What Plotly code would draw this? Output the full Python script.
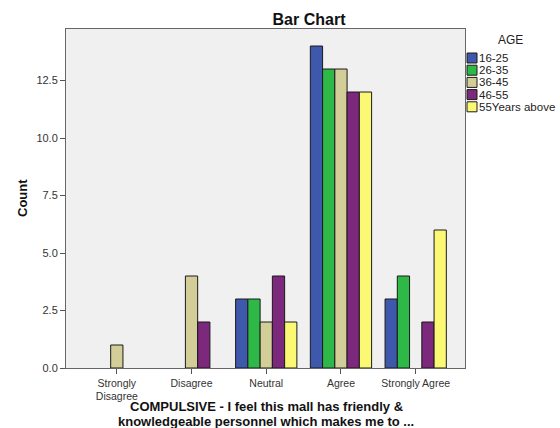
import plotly.graph_objects as go

categories = ["Strongly<br>Disagree", "Disagree", "Neutral", "Agree", "Strongly Agree"]
series_names = ["16-25", "26-35", "36-45", "46-55", "55Years above"]
values_16_25 = [0, 0, 3, 14, 3]
values_26_35 = [0, 0, 3, 13, 4]
values_36_45 = [1, 4, 2, 13, 0]
values_46_55 = [0, 2, 4, 12, 2]
values_55_up = [0, 0, 2, 12, 6]
series_values = [values_16_25, values_26_35, values_36_45, values_46_55, values_55_up]
colors = ["#3E58AC", "#2EB848", "#D3CE97", "#7C287D", "#FBF873"]
y_ticks = [0, 2.5, 5, 7.5, 10, 12.5]
y_tick_labels = ["0.0", "2.5", "5.0", "7.5", "10.0", "12.5"]
x_title_lines = ["COMPULSIVE - I feel this mall has friendly &amp;",
                 "knowledgeable personnel which makes me to ..."]

W, H = 560, 428
L, R, T, B = 66, 95, 29, 60
PW, PH = W - L - R, H - T - B

def px_to_paper(x, y):
    return (x - L) / PW, (H - B - y) / PH

fig = go.Figure()
for name, vals, col in zip(series_names, series_values, colors):
    fig.add_trace(go.Bar(
        x=list(range(len(categories))), y=vals, name=name,
        marker=dict(color=col, line=dict(color="#1a1a1a",
                                         width=[0 if v == 0 else 1 for v in vals])),
        showlegend=False,
    ))

font_family = "Liberation Sans, Arial, sans-serif"

# custom compact legend (SPSS style)
shapes = []
annotations = []
ax, ay = px_to_paper(510, 40)
annotations.append(dict(x=ax, y=ay, xref="paper", yref="paper", text="AGE",
                        showarrow=False, xanchor="center", yanchor="middle",
                        font=dict(size=12, color="#222222", family=font_family)))
for i, (name, col) in enumerate(zip(series_names, colors)):
    cy = 58 + i * 12.2
    x0, y0 = px_to_paper(467, cy - 5)
    x1, y1 = px_to_paper(477, cy + 5)
    shapes.append(dict(type="rect", xref="paper", yref="paper", x0=x0, x1=x1, y0=y1, y1=y0,
                       fillcolor=col, line=dict(color="#1a1a1a", width=1)))
    tx, ty = px_to_paper(477, cy)
    annotations.append(dict(x=tx, y=ty, xref="paper", yref="paper", text=name,
                            showarrow=False, xanchor="left", yanchor="middle",
                            font=dict(size=11.5, color="#222222", family=font_family)))

# axis titles
cx, cy = px_to_paper(22, 198)
annotations.append(dict(x=cx, y=cy, xref="paper", yref="paper", text="<b>Count</b>",
                        showarrow=False, textangle=-90, xanchor="center", yanchor="middle",
                        font=dict(size=13, color="#111111", family=font_family)))
for j, line in enumerate(x_title_lines):
    xt, yt = px_to_paper(266, 406.5 + 14.5 * j)
    annotations.append(dict(x=xt, y=yt, xref="paper", yref="paper",
                            text="<b>" + line + "</b>", borderpad=0,
                            showarrow=False, xanchor="center", yanchor="middle",
                            font=dict(size=13, color="#111111", family=font_family)))

fig.update_layout(
    width=W, height=H,
    margin=dict(l=L, r=R, t=T, b=B),
    paper_bgcolor="white",
    plot_bgcolor="#F0F0F0",
    barmode="group",
    bargap=0.18,
    bargroupgap=0,
    font=dict(family=font_family, size=11, color="#333333"),
    title=dict(text="<b>Bar Chart</b>", x=(309 / W), xanchor="center", y=1 - 19 / H, yanchor="middle",
               font=dict(size=16, color="#111111")),
    showlegend=False,
    shapes=shapes,
    annotations=annotations,
    xaxis=dict(
        range=[-0.68, 4.66],
        tickmode="array",
        tickvals=list(range(len(categories))),
        ticktext=categories,
        ticks="outside", ticklen=5, tickcolor="#555555",
        showline=True, linecolor="#666666", linewidth=1, mirror=True,
        showgrid=False, zeroline=False, automargin=False,
        tickfont=dict(size=10.5, color="#333333"),
    ),
    yaxis=dict(
        range=[0, 14.74],
        tickmode="array",
        tickvals=y_ticks,
        ticktext=y_tick_labels,
        ticks="outside", ticklen=5, tickcolor="#555555",
        showline=True, linecolor="#666666", linewidth=1, mirror=True,
        showgrid=False, zeroline=False, automargin=False,
        tickfont=dict(size=11, color="#333333"),
    ),
)

fig.write_html("out.html", config={"displayModeBar": False},
               post_script="document.body.style.margin='0';document.body.style.overflow='hidden';")
